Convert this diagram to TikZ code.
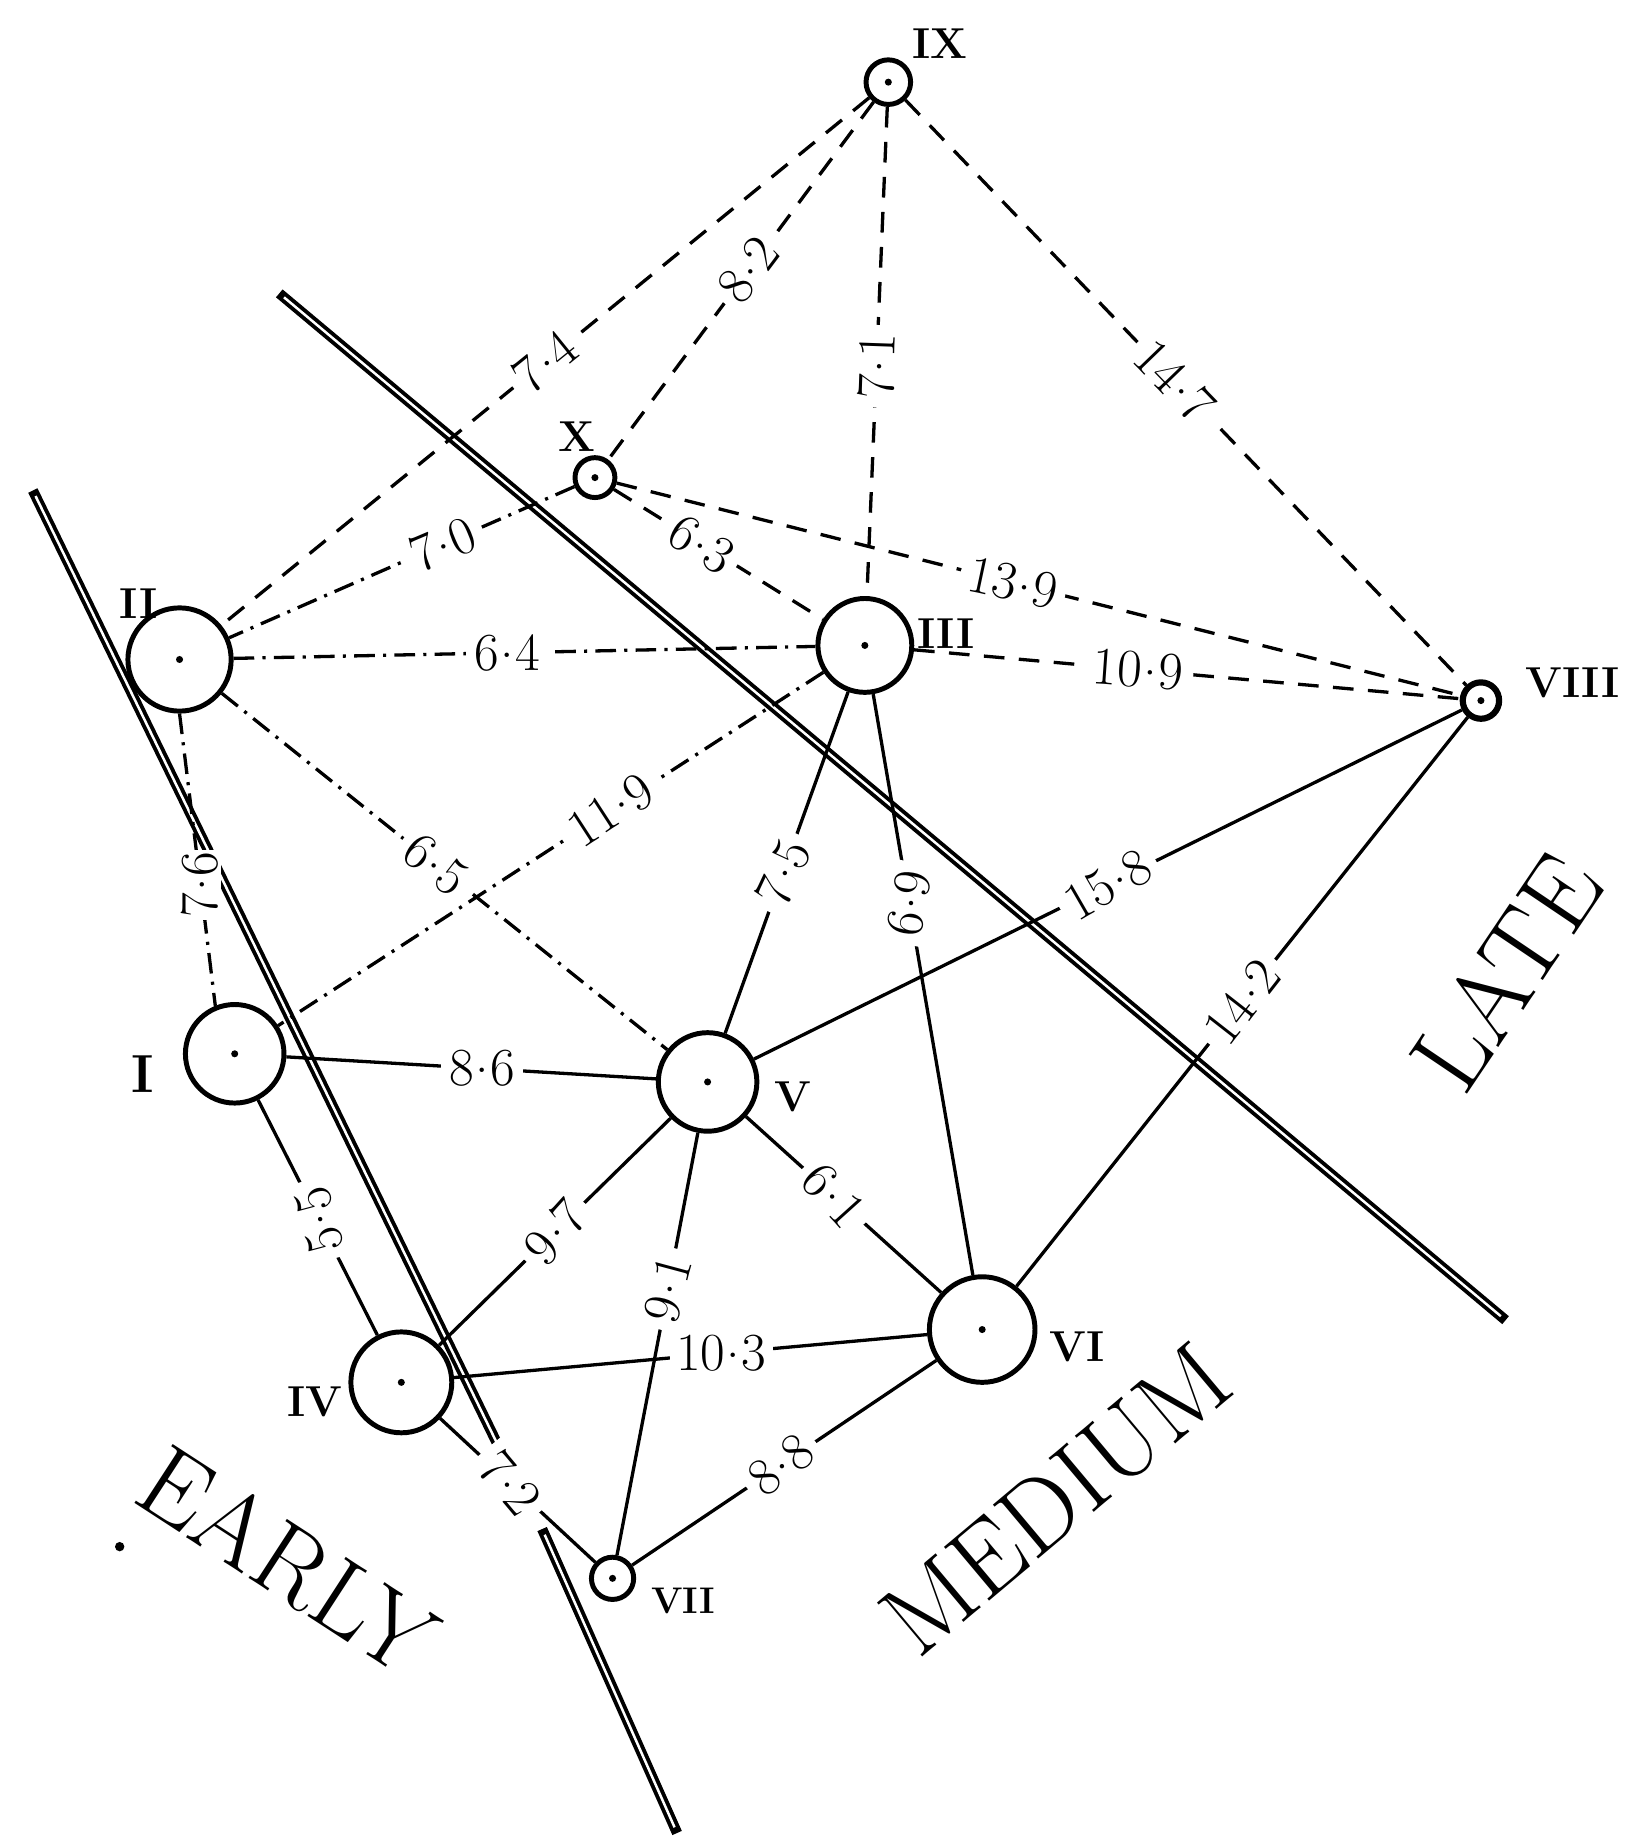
\documentclass[tikz,border=0pt]{standalone}
\newcommand\mydot{\kern0.03em\raisebox{0.24em}{.}\kern0.03em}
\begin{document}
\begin{tikzpicture}[x=0.02cm, y=-0.02cm]
\tikzset{
 vtx/.style={circle, draw, line width=2.4pt, inner sep=0pt, minimum size=#1},
 num/.style={font=\fontsize{21}{21}\selectfont\bfseries, inner sep=0pt},
 lbl/.style={fill=white, inner sep=4pt, font=\fontsize{26}{26}\selectfont},
 dsh/.style={line width=1.6pt, dash pattern=on 10pt off 7pt},
 dd/.style={line width=1.6pt, dash pattern=on 10pt off 4pt on 1.5pt off 4pt},
 sol/.style={line width=1.6pt},
 zone/.style={font=\fontsize{50}{50}\selectfont, inner sep=0pt},
 barout/.style={line width=5pt},
 barin/.style={white, line width=1.2pt, shorten <=3pt, shorten >=3pt},
}
\useasboundingbox (0,0) rectangle (1384,1568);
% separating bars
\coordinate (la) at (28,418);
\coordinate (lb) at (427,1237);
\coordinate (lc) at (462,1303);
\coordinate (ld) at (577,1562);
\coordinate (ra) at (238,250);
\coordinate (rb) at (1283,1125);
\foreach \p/\q in {la/lb, lc/ld, ra/rb}{
  \draw[barout] (\p) -- (\q);
  \draw[barin] (\p) -- (\q);
}
% vertices
\node[vtx=0.76cm] (IX) at (757,70) {};
\node[vtx=0.68cm] (X) at (507,407) {};
\node[vtx=1.76cm] (II) at (153,562) {};
\node[vtx=1.6cm] (III) at (737,550) {};
\node[vtx=0.62cm, line width=3pt] (VIII) at (1262,597) {};
\node[vtx=1.68cm] (I) at (200,898) {};
\node[vtx=1.68cm] (V) at (603,922) {};
\node[vtx=1.8cm] (VI) at (837,1133) {};
\node[vtx=1.72cm] (IV) at (342,1178) {};
\node[vtx=0.72cm] (VII) at (522,1345) {};
\foreach \n in {IX,X,II,III,VIII,I,V,VI,IV,VII}{
  \fill (\n.center) circle[radius=0.06cm];
}
% vertex names
\node[num] (tIX) at (801,37) {IX};
\node[num] (tX) at (492,372) {X};
\node[num] (tII) at (118,514) {II};
\node[num] (tIII) at (806,540) {III};
\node[num] (tVIII) at (1340,582) {VIII};
\node[num, font=\fontsize{26}{26}\selectfont\bfseries] (tI) at (122,915) {I};
\node[num] (tV) at (676,935) {V};
\node[num] (tVI) at (918,1148) {VI};
\node[num] (tIV) at (268,1195) {IV};
\node[num, font=\fontsize{18}{18}\selectfont\bfseries] (tVII) at (582,1364) {VII};
% connectors
\draw[dsh] (IX) -- node[lbl,pos=0.50,rotate=39]{7\mydot4} (II);
\draw[dsh] (IX) -- node[lbl,pos=0.47,rotate=53]{8\mydot2} (X);
\draw[dsh] (IX) -- node[lbl,pos=0.53,rotate=88]{7\mydot1} (III);
\draw[dsh] (IX) -- node[lbl,pos=0.48,rotate=-46]{14\mydot7} (VIII);
\draw[dd] (X) -- node[lbl,pos=0.38,rotate=23]{7\mydot0} (II);
\draw[dsh] (X) -- node[lbl,pos=0.42,rotate=-32]{6\mydot3} (III);
\draw[dsh] (X) -- node[lbl,pos=0.47,rotate=-12]{13\mydot9} (VIII);
\draw[dsh] (III) -- node[lbl,pos=0.41,rotate=-4]{10\mydot9} (VIII);
\draw[dd] (II) -- node[lbl,pos=0.47]{6\mydot4} (III);
\draw[dd] (II) -- node[lbl,pos=0.48,rotate=-38]{6\mydot5} (V);
\draw[dd] (III) -- node[lbl,pos=0.39,rotate=33]{11\mydot9} (I);
\draw[dd] (II.south) -- node[lbl,pos=0.57,rotate=90,inner sep=1pt,xshift=-0.08cm]{7\mydot6} (I.112);
\draw[sol] (I) -- node[lbl,pos=0.53]{8\mydot6} (V);
\draw[sol] (I) -- node[lbl,pos=0.51,rotate=105]{5\mydot5} (IV);
\draw[sol] (IV) -- node[lbl,pos=0.50,rotate=48]{9\mydot7} (V);
\draw[sol] (V) -- node[lbl,pos=0.37,rotate=75]{9\mydot1} (VII);
\draw[sol] (V) -- node[lbl,pos=0.45,rotate=-48]{6\mydot1} (VI);
\draw[sol] (V) -- node[lbl,pos=0.47,rotate=65]{7\mydot5} (III);
\draw[sol] (III) -- node[lbl,pos=0.36,rotate=80]{6\mydot9} (VI);
\draw[sol] (V) -- node[lbl,pos=0.50,rotate=30]{15\mydot8} (VIII);
\draw[sol] (VI) -- node[lbl,pos=0.50,rotate=52]{14\mydot2} (VIII);
\draw[sol] (IV) -- node[lbl,pos=0.565,inner sep=3pt]{10\mydot3} (VI);
\draw[sol] (VII) -- node[lbl,pos=0.49,rotate=38]{8\mydot8} (VI);
\draw[sol] (IV) -- node[lbl,pos=0.45,rotate=-50]{7\mydot2} (VII);
% zone names
\node[zone, rotate=-33] (early) at (245,1330) {EARLY};
\node[zone, rotate=40] (medium) at (900,1278) {MEDIUM};
\node[zone, rotate=56] (late) at (1283,828) {LATE};
\fill (102,1318) circle[radius=0.08cm];
\end{tikzpicture}
\end{document}
